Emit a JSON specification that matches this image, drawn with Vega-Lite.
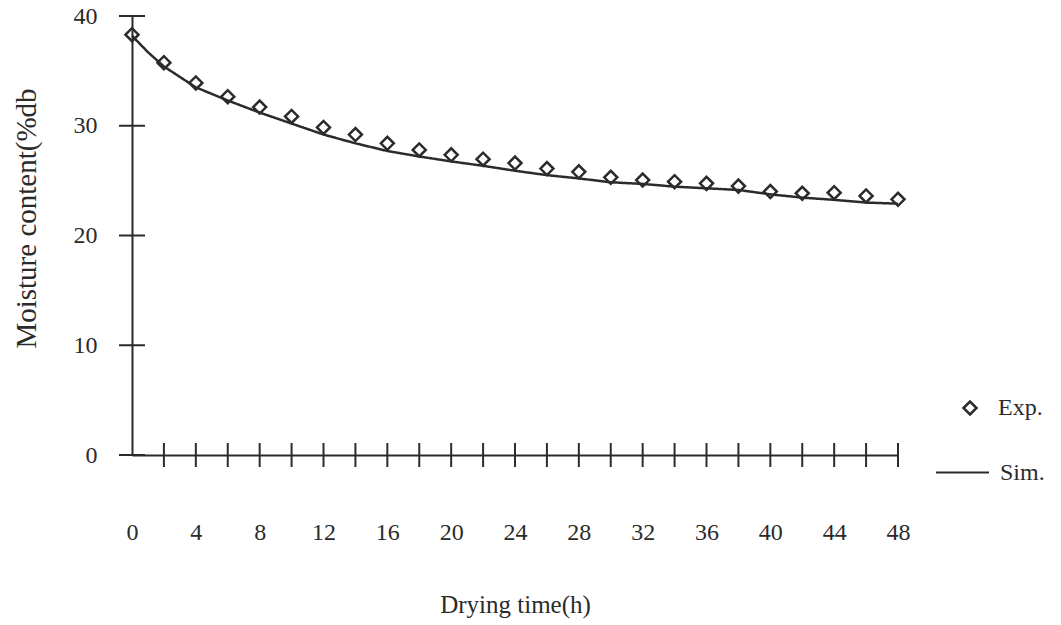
{
  "$schema": "https://vega.github.io/schema/vega-lite/v6.json",
  "width": 766,
  "height": 439,
  "autosize": "none",
  "padding": {"left": 132, "top": 16, "right": 163, "bottom": 170},
  "background": "white",
  "config": {
    "view": {"stroke": null},
    "font": "Liberation Serif",
    "axis": {
      "grid": false,
      "ticks": false,
      "tickSize": 0,
      "domainColor": "#2b2b2b",
      "domainWidth": 2,
      "labelFont": "Liberation Serif",
      "labelColor": "#2b2b2b",
      "labelFontSize": 24,
      "titleFont": "Liberation Serif",
      "titleColor": "#2b2b2b",
      "titleFontSize": 25,
      "titleFontWeight": "normal",
      "labelFlush": false,
      "labelOverlap": false
    },
    "legend": {
      "labelFont": "Liberation Serif",
      "labelColor": "#2b2b2b",
      "labelFontSize": 24,
      "padding": 0
    }
  },
  "datasets": {
    "exp": [
      {"t": 0, "mc": 38.3, "series": "Exp."},
      {"t": 2, "mc": 35.75, "series": "Exp."},
      {"t": 4, "mc": 33.9, "series": "Exp."},
      {"t": 6, "mc": 32.65, "series": "Exp."},
      {"t": 8, "mc": 31.7, "series": "Exp."},
      {"t": 10, "mc": 30.85, "series": "Exp."},
      {"t": 12, "mc": 29.85, "series": "Exp."},
      {"t": 14, "mc": 29.2, "series": "Exp."},
      {"t": 16, "mc": 28.4, "series": "Exp."},
      {"t": 18, "mc": 27.8, "series": "Exp."},
      {"t": 20, "mc": 27.35, "series": "Exp."},
      {"t": 22, "mc": 26.95, "series": "Exp."},
      {"t": 24, "mc": 26.6, "series": "Exp."},
      {"t": 26, "mc": 26.1, "series": "Exp."},
      {"t": 28, "mc": 25.8, "series": "Exp."},
      {"t": 30, "mc": 25.3, "series": "Exp."},
      {"t": 32, "mc": 25.05, "series": "Exp."},
      {"t": 34, "mc": 24.9, "series": "Exp."},
      {"t": 36, "mc": 24.75, "series": "Exp."},
      {"t": 38, "mc": 24.5, "series": "Exp."},
      {"t": 40, "mc": 24.0, "series": "Exp."},
      {"t": 42, "mc": 23.85, "series": "Exp."},
      {"t": 44, "mc": 23.9, "series": "Exp."},
      {"t": 46, "mc": 23.6, "series": "Exp."},
      {"t": 48, "mc": 23.3, "series": "Exp."}
    ],
    "sim": [
      {"t": 0, "mc": 38.2, "series": "Sim."},
      {"t": 1, "mc": 36.7, "series": "Sim."},
      {"t": 2, "mc": 35.4, "series": "Sim."},
      {"t": 4, "mc": 33.5, "series": "Sim."},
      {"t": 6, "mc": 32.3, "series": "Sim."},
      {"t": 8, "mc": 31.2, "series": "Sim."},
      {"t": 10, "mc": 30.2, "series": "Sim."},
      {"t": 12, "mc": 29.2, "series": "Sim."},
      {"t": 14, "mc": 28.4, "series": "Sim."},
      {"t": 16, "mc": 27.7, "series": "Sim."},
      {"t": 18, "mc": 27.2, "series": "Sim."},
      {"t": 20, "mc": 26.75, "series": "Sim."},
      {"t": 22, "mc": 26.35, "series": "Sim."},
      {"t": 24, "mc": 25.9, "series": "Sim."},
      {"t": 26, "mc": 25.5, "series": "Sim."},
      {"t": 28, "mc": 25.2, "series": "Sim."},
      {"t": 30, "mc": 24.85, "series": "Sim."},
      {"t": 32, "mc": 24.7, "series": "Sim."},
      {"t": 34, "mc": 24.45, "series": "Sim."},
      {"t": 36, "mc": 24.3, "series": "Sim."},
      {"t": 38, "mc": 24.15, "series": "Sim."},
      {"t": 40, "mc": 23.75, "series": "Sim."},
      {"t": 42, "mc": 23.45, "series": "Sim."},
      {"t": 44, "mc": 23.25, "series": "Sim."},
      {"t": 46, "mc": 23.0, "series": "Sim."},
      {"t": 48, "mc": 22.9, "series": "Sim."}
    ],
    "xticks": [
      {"t": 2, "mc": 0}, {"t": 4, "mc": 0}, {"t": 6, "mc": 0}, {"t": 8, "mc": 0},
      {"t": 10, "mc": 0}, {"t": 12, "mc": 0}, {"t": 14, "mc": 0}, {"t": 16, "mc": 0},
      {"t": 18, "mc": 0}, {"t": 20, "mc": 0}, {"t": 22, "mc": 0}, {"t": 24, "mc": 0},
      {"t": 26, "mc": 0}, {"t": 28, "mc": 0}, {"t": 30, "mc": 0}, {"t": 32, "mc": 0},
      {"t": 34, "mc": 0}, {"t": 36, "mc": 0}, {"t": 38, "mc": 0}, {"t": 40, "mc": 0},
      {"t": 42, "mc": 0}, {"t": 44, "mc": 0}, {"t": 46, "mc": 0}, {"t": 48, "mc": 0}
    ],
    "yticks": [
      {"t": 0, "mc": 0}, {"t": 0, "mc": 10}, {"t": 0, "mc": 20}, {"t": 0, "mc": 30}, {"t": 0, "mc": 40}
    ]
  },
  "encoding": {
    "x": {
      "field": "t",
      "type": "quantitative",
      "scale": {"domain": [0, 48], "nice": false, "zero": false},
      "axis": {
        "values": [0, 4, 8, 12, 16, 20, 24, 28, 32, 36, 40, 44, 48],
        "labelBaseline": "alphabetic",
        "labelPadding": 84,
        "title": "Drying time(h)",
        "titleBaseline": "alphabetic",
        "titleY": 157
      }
    },
    "y": {
      "field": "mc",
      "type": "quantitative",
      "scale": {"domain": [0, 40], "nice": false},
      "axis": {
        "values": [0, 10, 20, 30, 40],
        "labelPadding": 35,
        "title": "Moisture content(%db",
        "titleFontSize": 29,
        "titleAngle": -90,
        "titleBaseline": "alphabetic",
        "titleAlign": "center",
        "titleX": -97,
        "titleY": 202
      }
    }
  },
  "layer": [
    {
      "data": {"name": "sim"},
      "mark": {"type": "line", "color": "#2b2b2b", "strokeWidth": 2.5},
      "encoding": {
        "strokeDash": {
          "field": "series",
          "type": "nominal",
          "scale": {"range": [[1, 0]]},
          "legend": {
            "title": null,
            "orient": "none",
            "legendX": 803,
            "legendY": 429,
            "symbolType": "stroke",
            "symbolSize": 2809,
            "symbolStrokeWidth": 2,
            "symbolStrokeColor": "#2b2b2b",
            "labelOffset": 10
          }
        }
      }
    },
    {
      "data": {"name": "exp"},
      "mark": {"type": "point", "filled": false, "size": 169, "strokeWidth": 2.5, "color": "#2b2b2b", "opacity": 1},
      "encoding": {
        "shape": {
          "field": "series",
          "type": "nominal",
          "scale": {"range": ["diamond"]},
          "legend": {
            "title": null,
            "orient": "none",
            "legendX": 826,
            "legendY": 380,
            "symbolSize": 169,
            "symbolStrokeWidth": 2.5,
            "symbolStrokeColor": "#2b2b2b",
            "symbolFillColor": "transparent",
            "labelOffset": 16
          }
        }
      }
    },
    {
      "data": {"name": "xticks"},
      "mark": {"type": "tick", "orient": "vertical", "size": 24, "thickness": 2, "color": "#2b2b2b", "opacity": 1}
    },
    {
      "data": {"name": "yticks"},
      "mark": {"type": "tick", "orient": "horizontal", "size": 26, "thickness": 2, "color": "#2b2b2b", "opacity": 1}
    }
  ]
}
